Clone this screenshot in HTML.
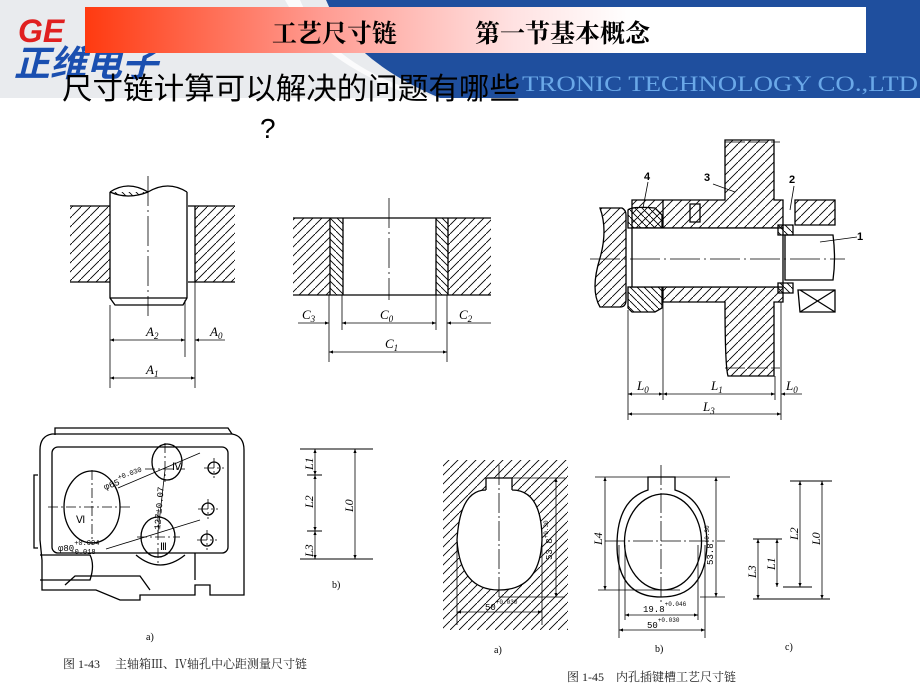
<!DOCTYPE html>
<html><head><meta charset="utf-8">
<style>
html,body{margin:0;padding:0;background:#fff;}
svg{display:block;}
</style></head>
<body>
<svg width="920" height="690" viewBox="0 0 920 690" xmlns="http://www.w3.org/2000/svg" font-family="'Liberation Serif','Noto Serif CJK SC',serif">
<defs>
<pattern id="h" patternUnits="userSpaceOnUse" width="9" height="9"><path d="M-1,10 L10,-1" stroke="#000" stroke-width="0.9"/></pattern>
<pattern id="h2" patternUnits="userSpaceOnUse" width="7" height="7"><path d="M-1,-1 L8,8" stroke="#000" stroke-width="0.9"/></pattern>
<linearGradient id="tg" x1="0" x2="1" y1="0" y2="0">
<stop offset="0" stop-color="#ff3a10"/><stop offset="0.3" stop-color="#ff9a90"/><stop offset="0.55" stop-color="#ffe2e2"/><stop offset="0.7" stop-color="#fff"/><stop offset="1" stop-color="#fff"/></linearGradient>
<marker id="a" viewBox="0 0 10 10" refX="10" refY="5" markerWidth="7" markerHeight="5" orient="auto-start-reverse"><path d="M0,1 L10,5 L0,9z" fill="#000"/></marker>
</defs>

<!-- header -->
<rect x="0" y="0" width="920" height="98" fill="#e9ebee"/>
<path d="M326,0 L920,0 L920,98 L440,98 Q350,60 326,0z" fill="#1f4f9e"/>
<path d="M300,0 Q330,70 440,98 L420,98 Q320,65 285,0z" fill="#fff" opacity="0.8"/>
<text x="18" y="42" font-family="'Liberation Sans',sans-serif" font-weight="bold" font-style="italic" font-size="32" fill="#e02020">GE</text>
<text x="14" y="76" font-family="'Liberation Sans','Noto Sans CJK SC',sans-serif" font-weight="bold" font-style="italic" font-size="36" fill="#1a4fb0">正维电子</text>
<text x="522" y="91" font-size="22" fill="#6aa8e8" textLength="396" lengthAdjust="spacingAndGlyphs">TRONIC TECHNOLOGY CO.,LTD</text>
<rect x="85" y="7" width="781" height="46" fill="url(#tg)"/>
<text x="272" y="42" font-family="'Noto Serif CJK SC',serif" font-weight="bold" font-size="25" fill="#000">工艺尺寸链</text>
<text x="475" y="42" font-family="'Noto Serif CJK SC',serif" font-weight="bold" font-size="25" fill="#000">第一节基本概念</text>
<text x="62" y="99" font-family="'Liberation Sans','Noto Sans CJK SC',sans-serif" font-size="30" fill="#000" textLength="458" lengthAdjust="spacingAndGlyphs">尺寸链计算可以解决的问题有哪些</text>
<text x="260" y="138" font-family="'Liberation Sans',sans-serif" font-size="28" fill="#000">?</text>

<g fill="none" stroke="#000" stroke-width="1.3">
<!-- Diagram A -->
<rect x="70" y="206" width="40" height="76" fill="url(#h)" stroke="none"/>
<rect x="195" y="206" width="40" height="76" fill="url(#h)" stroke="none"/>
<path d="M70,206 H110 M70,282 H110 M188,206 H235 M188,282 H235"/>
<path d="M110,192 V298 L115,305 H183 L187,298 V192"/>
<path d="M110,192 Q128,180 148,192 Q168,180 187,192"/>
<path d="M110,192 Q128,200 148,192" fill="url(#h2)"/>
<path d="M110,298 H187"/>
<path d="M195,206 V282"/>
<path d="M148,176 V316" stroke-width="0.8" stroke-dasharray="30,4,2,4"/>
<path d="M110,305 V388 M185,300 V357 M195,282 V388" stroke-width="0.8"/>
<path d="M110,340 H185" stroke-width="0.8" marker-start="url(#a)" marker-end="url(#a)"/>
<path d="M225,340 H195" stroke-width="0.8" marker-end="url(#a)"/>
<path d="M110,378 H195" stroke-width="0.8" marker-start="url(#a)" marker-end="url(#a)"/>

<!-- Diagram C -->
<rect x="293" y="218" width="37" height="77" fill="url(#h)" stroke="none"/>
<rect x="330" y="218" width="13" height="77" fill="url(#h2)" stroke="none"/>
<rect x="436" y="218" width="12" height="77" fill="url(#h2)" stroke="none"/>
<rect x="448" y="218" width="43" height="77" fill="url(#h)" stroke="none"/>
<path d="M293,218 H491 M293,295 H491 M330,218 V295 M343,218 V295 M436,218 V295 M448,218 V295"/>
<path d="M389,198 V300" stroke-width="0.8" stroke-dasharray="30,4,2,4"/>
<path d="M329,295 V362 M342,295 V330 M436,295 V330 M447,295 V362" stroke-width="0.8"/>
<path d="M298,323 H329" stroke-width="0.8" marker-end="url(#a)"/>
<path d="M342,323 H436" stroke-width="0.8" marker-start="url(#a)" marker-end="url(#a)"/>
<path d="M491,323 H447" stroke-width="0.8" marker-end="url(#a)"/>
<path d="M329,352 H447" stroke-width="0.8" marker-start="url(#a)" marker-end="url(#a)"/>

<!-- Assembly top right -->
<path d="M725,140 H774 V200 H783 V228 H632 V200 H725z" fill="url(#h)"/>
<path d="M663,287 H783 V302 H774 V376 H728 Q725,366 725,302 H663z" fill="url(#h)"/>
<path d="M628,210 Q632,206 655,208 L662,215 V228 H628z" fill="url(#h2)"/>
<path d="M628,287 H662 V308 L655,312 H632 L628,308z" fill="url(#h2)"/>
<path d="M600,208 H622 Q626,210 626,215 V300 Q626,307 620,307 H600 Q590,290 600,258 Q608,230 600,208z" fill="url(#h)"/>
<path d="M632,228 H783 V287 H632z" fill="#fff"/>
<path d="M663,200 V228 M690,204 H700 V222 H690z"/>
<path d="M778,225 H793 V235 H778z M778,283 H793 V293 H778z" fill="url(#h2)"/>
<path d="M795,200 H835 V225 H795z" fill="url(#h)"/>
<path d="M798,290 H835 V312 H800z M800,290 L835,312 M835,290 L800,312"/>
<path d="M785,235 H833 Q836,258 833,280 H785z"/>
<path d="M590,259 H845" stroke-width="0.8" stroke-dasharray="30,4,2,4"/>
<path d="M725,142 H780 M725,368 H780" stroke-width="0.8" stroke-dasharray="20,3"/>
<path d="M628,310 V420 M663,302 V400 M775,376 V400 M781,302 V420" stroke-width="0.8"/>
<path d="M628,394 H663" stroke-width="0.8" marker-start="url(#a)" marker-end="url(#a)"/>
<path d="M663,394 H775" stroke-width="0.8" marker-start="url(#a)" marker-end="url(#a)"/>
<path d="M802,394 H781" stroke-width="0.8" marker-end="url(#a)"/>
<path d="M628,414 H781" stroke-width="0.8" marker-start="url(#a)" marker-end="url(#a)"/>
<path d="M648,182 L643,208 M713,184 L735,192 M794,186 L790,210 M857,237 L820,242" stroke-width="0.8"/>

<!-- Bottom-left housing -->
<path d="M40,450 Q40,436 52,434 H232 Q244,436 244,450 V595 H210 V585 H195 V595 H140 V600 H120 L96,590 H42 V560 L40,540z"/>
<path d="M38,475 H34 V548 H38"/>
<path d="M55,435 V428 H228 L232,434"/>
<rect x="52" y="447" width="176" height="106" rx="6"/>
<path d="M40,555 H90 Q95,565 90,580 H40 M195,553 V580 M136,555 Q160,575 185,555"/>
<path d="M65,585 L75,576 H140 L150,590"/>
<ellipse cx="92" cy="507" rx="28" ry="36"/>
<ellipse cx="167" cy="462" rx="15" ry="18"/>
<ellipse cx="158" cy="537" rx="17" ry="20"/>
<circle cx="214" cy="468" r="6"/><circle cx="208" cy="509" r="6"/><circle cx="207" cy="540" r="6"/>
<path d="M48,507 H130 M92,470 V545 M145,469 H185 M165,443 V482 M137,537 H180 M158,512 V565 M204,468 H224 M214,458 V478 M198,509 H218 M208,499 V519 M197,540 H217 M207,530 V550" stroke-width="0.8" stroke-dasharray="10,3,2,3"/>
<path d="M118,488 L200,453 M165,470 L158,532 M106,549 L200,520" stroke-width="0.8"/>

<!-- b) chain -->
<path d="M300,449 H373 M300,559 H373 M307,475 H322 M307,531 H322" stroke-width="1"/>
<path d="M315,449 V475" stroke-width="0.8" marker-start="url(#a)" marker-end="url(#a)"/>
<path d="M315,475 V531" stroke-width="0.8" marker-start="url(#a)" marker-end="url(#a)"/>
<path d="M315,531 V559" stroke-width="0.8" marker-start="url(#a)" marker-end="url(#a)"/>
<path d="M355,449 V559" stroke-width="0.8" marker-start="url(#a)" marker-end="url(#a)"/>

<!-- Fig 1-45 a -->
<path d="M443,460 H568 V630 H443z M499,590 Q460,590 457,540 Q460,490 486,490 V478 H512 V490 Q542,490 542,540 Q540,590 499,590z" fill="url(#h)" fill-rule="evenodd" stroke="none"/>
<path d="M486,478 H512 V490 M486,478 V490 M499,590 Q460,590 457,540 Q460,490 486,490 M512,490 Q542,490 542,540 Q540,590 499,590" />
<path d="M499,465 V600" stroke-width="0.8" stroke-dasharray="20,3,2,3"/>
<path d="M512,478 H565 M499,597 H565" stroke-width="0.8"/>
<path d="M556,478 V597" stroke-width="0.8" marker-start="url(#a)" marker-end="url(#a)"/>
<path d="M457,540 V625 M542,540 V625" stroke-width="0.8"/>
<path d="M457,612 H542" stroke-width="0.8" marker-start="url(#a)" marker-end="url(#a)"/>

<!-- Fig 1-45 b -->
<path d="M648,477 H675 V490 Q707,500 707,545 Q705,597 661,597 Q617,597 617,545 Q617,500 648,490z"/>
<ellipse cx="663" cy="542" rx="38.5" ry="48"/>
<path d="M595,477 H730 M598,590 H680 M700,597 H725" stroke-width="0.8"/>
<path d="M605,477 V590" stroke-width="0.8" marker-start="url(#a)" marker-end="url(#a)"/>
<path d="M716,477 V597" stroke-width="0.8" marker-start="url(#a)" marker-end="url(#a)"/>
<path d="M661,465 V605 M605,541 H725" stroke-width="0.8" stroke-dasharray="20,3,2,3"/>
<path d="M625,545 V620 M698,545 V620 M619,545 V638 M705,545 V638" stroke-width="0.8"/>
<path d="M625,615 H698" stroke-width="0.8" marker-start="url(#a)" marker-end="url(#a)"/>
<path d="M619,630 H705" stroke-width="0.8" marker-start="url(#a)" marker-end="url(#a)"/>

<!-- Fig 1-45 c -->
<path d="M790,481 H832 M753,539 H782 M783,587 H812 M753,599 H830" stroke-width="1"/>
<path d="M758,539 V599" stroke-width="0.8" marker-start="url(#a)" marker-end="url(#a)"/>
<path d="M777,539 V587" stroke-width="0.8" marker-start="url(#a)" marker-end="url(#a)"/>
<path d="M800,481 V587" stroke-width="0.8" marker-start="url(#a)" marker-end="url(#a)"/>
<path d="M822,481 V599" stroke-width="0.8" marker-start="url(#a)" marker-end="url(#a)"/>
</g>

<g font-style="italic" font-size="13" fill="#000">
<text x="146" y="336">A<tspan font-size="9" dy="3">2</tspan></text>
<text x="210" y="336">A<tspan font-size="9" dy="3">0</tspan></text>
<text x="146" y="374">A<tspan font-size="9" dy="3">1</tspan></text>
<text x="302" y="319">C<tspan font-size="9" dy="3">3</tspan></text>
<text x="380" y="319">C<tspan font-size="9" dy="3">0</tspan></text>
<text x="459" y="319">C<tspan font-size="9" dy="3">2</tspan></text>
<text x="385" y="348">C<tspan font-size="9" dy="3">1</tspan></text>
<text x="637" y="390">L<tspan font-size="9" dy="3">0</tspan></text>
<text x="711" y="390">L<tspan font-size="9" dy="3">1</tspan></text>
<text x="786" y="390">L<tspan font-size="9" dy="3">0</tspan></text>
<text x="703" y="411">L<tspan font-size="9" dy="3">3</tspan></text>
</g>
<g font-size="11" font-weight="bold" fill="#000" font-family="'Liberation Sans',sans-serif">
<text x="644" y="180">4</text><text x="704" y="181">3</text><text x="789" y="183">2</text><text x="857" y="240">1</text>
</g>
<g font-size="12" font-style="italic" fill="#000">
<text transform="translate(313,470) rotate(-90)">L1</text>
<text transform="translate(313,508) rotate(-90)">L2</text>
<text transform="translate(313,557) rotate(-90)">L3</text>
<text transform="translate(353,512) rotate(-90)">L0</text>
<text transform="translate(602,545) rotate(-90)">L4</text>
<text transform="translate(756,578) rotate(-90)">L3</text>
<text transform="translate(775,570) rotate(-90)">L1</text>
<text transform="translate(798,540) rotate(-90)">L2</text>
<text transform="translate(820,545) rotate(-90)">L0</text>
</g>
<g font-size="9" fill="#000" font-family="'Liberation Mono',monospace">
<text x="105" y="490" transform="rotate(-20 105 490)">φ65<tspan dy="-5" font-size="7">+0.030</tspan></text>
<text x="58" y="551">φ80<tspan dy="-6" font-size="7">+0.004</tspan><tspan dx="-29" dy="9" font-size="7">-0.018</tspan></text>
<text transform="translate(160,530) rotate(-85)">127±0.07</text>
<text x="172" y="470" font-size="10">Ⅳ</text><text x="76" y="523" font-size="10">Ⅵ</text><text x="160" y="550" font-size="10">Ⅲ</text>
<text transform="translate(552,560) rotate(-90)">53.8<tspan font-size="6" dy="-4">+0.30</tspan></text>
<text transform="translate(713,565) rotate(-90)">53.8<tspan font-size="6" dy="-4">+0.30</tspan></text>
<text x="485" y="610">50<tspan font-size="6" dy="-6">+0.030</tspan></text>
<text x="643" y="612">19.8<tspan font-size="6" dy="-6">+0.046</tspan></text>
<text x="647" y="628">50<tspan font-size="6" dy="-6">+0.030</tspan></text>
</g>
<g font-size="10" fill="#000">
<text x="332" y="588">b)</text><text x="146" y="640">a)</text>
<text x="494" y="653">a)</text><text x="655" y="652">b)</text><text x="785" y="650">c)</text>
</g>
<g font-family="'Liberation Serif','Noto Serif CJK SC',serif" font-size="12" fill="#222">
<text x="63" y="668">图 1-43　 主轴箱Ⅲ、Ⅳ轴孔中心距测量尺寸链</text>
<text x="567" y="681">图 1-45　内孔插键槽工艺尺寸链</text>
</g>
</svg>
</body></html>
